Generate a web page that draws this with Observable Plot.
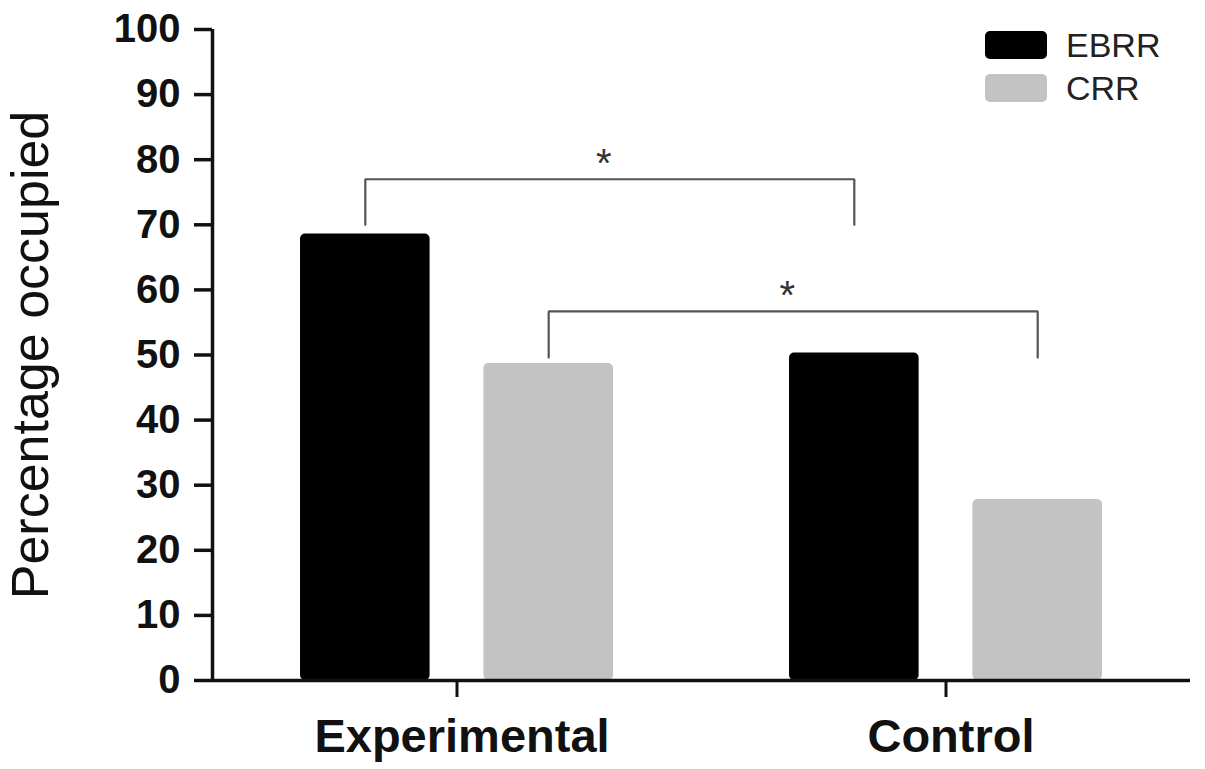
<!DOCTYPE html>
<html>
<head>
<meta charset="utf-8">
<script src="https://cdn.jsdelivr.net/npm/d3@7"></script>
<script src="https://cdn.jsdelivr.net/npm/@observablehq/plot@0.6"></script>
<style>
  html, body { margin: 0; padding: 0; background: #fff; }
  #wrap { position: relative; width: 1205px; height: 769px; font-family: "Liberation Sans", Arial, sans-serif; }
  #legend { position: absolute; left: 985px; top: 30px; }
  .item { display: flex; align-items: center; height: 29px; margin-bottom: 14px; }
  .sw { width: 62px; height: 28px; border-radius: 5px; margin-right: 19px; }
  .lab { font-size: 34px; color: #222; line-height: 28px; }
</style>
</head>
<body>
<div id="wrap"></div>
<script>
// ---- data ----
const groups = ["Experimental", "Control"];
const seriesNames = ["EBRR", "CRR"];
const seriesColors = ["#000000", "#c3c3c3"];
const ebrrValues = [68.6, 50.3];
const crrValues = [48.7, 27.8];
const yTicks = [0, 10, 20, 30, 40, 50, 60, 70, 80, 90, 100];
// significance brackets: compare the same series across groups
const bracketSeries = ["EBRR", "CRR"];
const bracketTop = [77, 56.7];
const bracketFoot = [70, 49.6];
const bracketLabel = ["*", "*"];

// ---- layout (in x-scale units, one group occupies 2 units) ----
const barW = 0.53, barGap = 0.22;
const groupCenter = (i) => 1 + 2 * i;
const barX1 = (gi, si) => si === 0 ? groupCenter(gi) - barGap / 2 - barW : groupCenter(gi) + barGap / 2;
const barX2 = (gi, si) => barX1(gi, si) + barW;
const barMid = (gi, si) => (barX1(gi, si) + barX2(gi, si)) / 2;

const seriesValues = [ebrrValues, crrValues];
const bars = [];
groups.forEach((g, gi) => seriesNames.forEach((s, si) => {
  bars.push({group: g, series: s, value: seriesValues[si][gi], x1: barX1(gi, si), x2: barX2(gi, si)});
}));

const bracketPaths = [];
const bracketText = [];
bracketSeries.forEach((s, k) => {
  const si = seriesNames.indexOf(s);
  const xa = barMid(0, si), xb = barMid(1, si);
  [[xa, bracketFoot[k]], [xa, bracketTop[k]], [xb, bracketTop[k]], [xb, bracketFoot[k]]]
    .forEach(([x, y]) => bracketPaths.push({k, x, y}));
  bracketText.push({x: (xa + xb) / 2, y: bracketTop[k], label: bracketLabel[k]});
});

const font = "Liberation Sans, Arial, sans-serif";
const groupTicks = groups.map((g, i) => groupCenter(i));

const chart = Plot.plot({
  width: 1205,
  height: 769,
  marginLeft: 212,
  marginRight: 15,
  marginTop: 29,
  marginBottom: 89,
  style: {fontFamily: font, background: "#fff", color: "#111"},
  x: {domain: [0, 2 * groups.length]},
  y: {domain: [0, 100]},
  color: {domain: seriesNames, range: seriesColors},
  marks: [
    Plot.rectY(bars, {x1: "x1", x2: "x2", y: "value", fill: "series", rx: 5}),
    Plot.line(bracketPaths, {x: "x", y: "y", z: "k", stroke: "#555", strokeWidth: 2.2, strokeLinejoin: "miter"}),
    Plot.text(bracketText, {x: "x", y: "y", text: "label", fontSize: 40, fill: "#333", dx: -6, dy: -2, lineAnchor: "bottom"}),
    Plot.ruleY([0], {stroke: "#111", strokeWidth: 3.5}),
    Plot.ruleX([0], {stroke: "#111", strokeWidth: 3.5}),
    Plot.axisY({ticks: yTicks, tickSize: 18, tickPadding: 14, fontSize: 40, fontWeight: "bold", label: null, strokeWidth: 3.5, stroke: "#111", fill: "#111"}),
    Plot.axisX({ticks: groupTicks, tickFormat: () => "", tickSize: 17, label: null, strokeWidth: 3, stroke: "#111"}),
    Plot.axisX({ticks: groupTicks, tickFormat: (d) => groups[(d - 1) / 2], tickSize: 0, tickPadding: 38, fontSize: 47, fontWeight: "bold", label: null, fill: "#111", dx: 5}),
    Plot.text(["Percentage occupied"], {frameAnchor: "left", textAnchor: "middle", rotate: -90, dx: -181, fontSize: 52, fill: "#111"})
  ]
});

const wrap = document.getElementById("wrap");
wrap.appendChild(chart);

const legend = document.createElement("div");
legend.id = "legend";
seriesNames.forEach((s, i) => {
  const it = document.createElement("div");
  it.className = "item";
  const sw = document.createElement("div");
  sw.className = "sw";
  sw.style.background = seriesColors[i];
  const lab = document.createElement("span");
  lab.className = "lab";
  lab.textContent = s;
  it.appendChild(sw);
  it.appendChild(lab);
  legend.appendChild(it);
});
wrap.appendChild(legend);
</script>
</body>
</html>
